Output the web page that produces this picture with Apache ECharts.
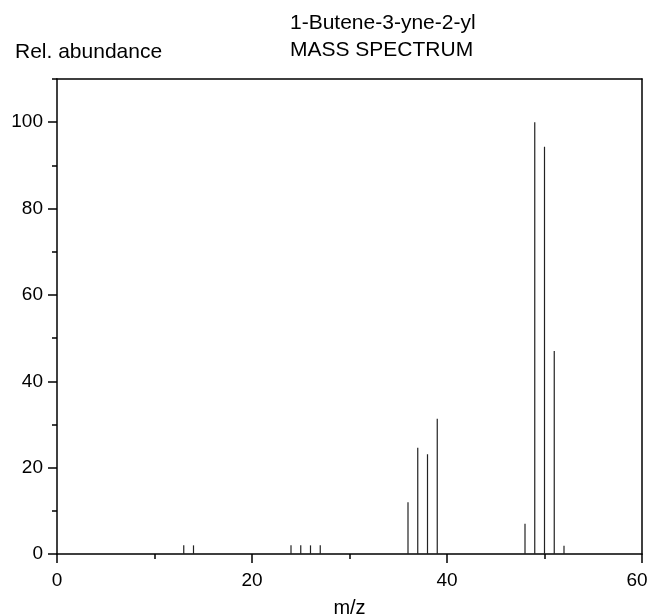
<!DOCTYPE html>
<html>
<head>
<meta charset="utf-8">
<script src="https://cdn.jsdelivr.net/npm/echarts@6/dist/echarts.min.js"></script>
<style>
html,body{margin:0;padding:0;background:#fff;}
#chart{width:649px;height:615px;}
</style>
</head>
<body>
<div id="chart"></div>
<script>
const titleLines = ['1-Butene-3-yne-2-yl', 'MASS SPECTRUM'];
const yAxisTitle = 'Rel. abundance';
const xAxisTitle = 'm/z';
const mzValues = [13, 14, 24, 25, 26, 27, 36, 37, 38, 39, 48, 49, 50, 51, 52];
const abundances = [2, 2, 2, 2, 2, 2, 12, 24.6, 23.1, 31.3, 7, 100, 94.3, 47, 1.9];
const xMajorTicks = [0, 20, 40, 60];
const yMajorTicks = [0, 20, 40, 60, 80, 100];

const FONT = 'Liberation Sans';
const chart = echarts.init(document.getElementById('chart'), null, {renderer: 'canvas'});
const grid = {left: 57, right: 7, top: 79, bottom: 61, outerBoundsMode: 'none', containLabel: false};
const axisLineStyle = {color: '#000', width: 1.5};

chart.setOption({
  animation: false,
  backgroundColor: '#fff',
  title: [
    {text: titleLines.join('\n'), left: 285, top: 5, textAlign: 'left',
     textStyle: {fontFamily: FONT, fontSize: 21, fontWeight: 'normal', color: '#000', lineHeight: 26.5}},
    {text: yAxisTitle, left: 10, top: 35,
     textStyle: {fontFamily: FONT, fontSize: 21, fontWeight: 'normal', color: '#000', lineHeight: 24}}
  ],
  grid: grid,
  xAxis: [
    {type: 'value', min: 0, max: 60, interval: 10, position: 'bottom',
     axisLine: {show: true, onZero: false, lineStyle: axisLineStyle},
     axisTick: {show: true, length: 5, lineStyle: {color: '#000', width: 1.5}},
     axisLabel: {show: false}, splitLine: {show: false}},
    {type: 'value', min: 0, max: 60, interval: 20, position: 'bottom',
     name: xAxisTitle, nameLocation: 'middle', nameGap: 44,
     nameTextStyle: {fontFamily: FONT, fontSize: 20, color: '#000'},
     axisLine: {show: false},
     axisTick: {show: true, length: 9, customValues: xMajorTicks, lineStyle: {color: '#000', width: 1.5}},
     axisLabel: {show: true, margin: 17, customValues: xMajorTicks, fontFamily: FONT, fontSize: 19, color: '#000',
       formatter: function (v) { return v === 60 ? '{r|' + v + '}' : String(v); },
       rich: {r: {fontFamily: FONT, fontSize: 19, color: '#000', padding: [0, 10, 0, 0]}}},
     splitLine: {show: false}},
    {type: 'value', min: 0, max: 60, position: 'top',
     axisLine: {show: true, onZero: false, lineStyle: axisLineStyle},
     axisTick: {show: false}, axisLabel: {show: false}, splitLine: {show: false}}
  ],
  yAxis: [
    {type: 'value', min: 0, max: 110, interval: 10, position: 'left',
     axisLine: {show: true, onZero: false, lineStyle: axisLineStyle},
     axisTick: {show: true, length: 5, lineStyle: {color: '#000', width: 1.5}},
     axisLabel: {show: false}, splitLine: {show: false}},
    {type: 'value', min: 0, max: 110, interval: 20, position: 'left',
     axisLine: {show: false},
     axisTick: {show: true, length: 9, customValues: yMajorTicks, lineStyle: {color: '#000', width: 1.5}},
     axisLabel: {show: true, margin: 14, customValues: yMajorTicks, fontFamily: FONT, fontSize: 19, color: '#000'},
     splitLine: {show: false}},
    {type: 'value', min: 0, max: 110, position: 'right',
     axisLine: {show: true, onZero: false, lineStyle: axisLineStyle},
     axisTick: {show: false}, axisLabel: {show: false}, splitLine: {show: false}}
  ],
  series: [{
    type: 'bar',
    xAxisIndex: 0,
    yAxisIndex: 0,
    barWidth: 1.2,
    itemStyle: {color: '#222'},
    data: mzValues.map((m, i) => [m, abundances[i]])
  }]
});
</script>
</body>
</html>
